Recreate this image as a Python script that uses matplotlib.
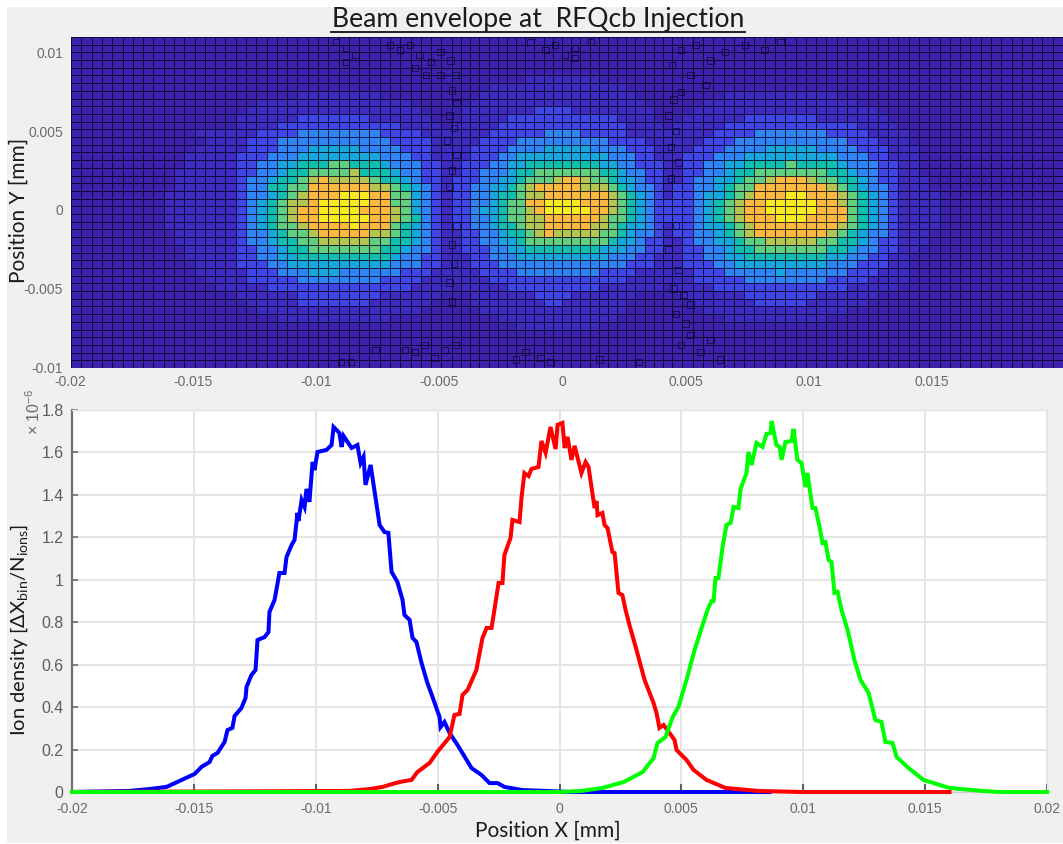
import numpy as np
import matplotlib
matplotlib.use("Agg")
import matplotlib.pyplot as plt
from matplotlib.colors import ListedColormap
from matplotlib.patches import Rectangle
from matplotlib.lines import Line2D

W, H = 1063, 844
plt.rcParams['font.family'] = ['Liberation Sans', 'DejaVu Sans']
plt.rcParams['mathtext.default'] = 'regular'

# ---- data ----------------------------------------------------------------
# Heat map: intensity level per cell (0 = lowest ... 9 = highest), top row first
left_rows = [
 "", "", "", "", "", "", "",
 "0000000000000000000000111111110000000",
 "0000000000000000001111111111111110000",
 "0000000000000000011111111111111111000",
 "0000000000000000111111222222211111100",
 "0000000000000000111122222222222211110",
 "0000000000001111112222333333332222111",
 "0000000000000111122233333333333222211",
 "0000000000001111122233344444333322211",
 "0000000000011111222333444444443332211",
 "0000000000011111223344555665554333221",
 "0000000000111111223345566667555433221",
 "0000000000111111233455678777765543221",
 "0000000000111111233556688888877654321",
 "0000000001111111233456788899988664321",
 "0000000001111111234567789999988664321",
 "0000000001111111234567889999888764321",
 "0000000001111111234567889999988765321",
 "0000000001111111234566788889888654321",
 "0000000000111111233456678888877654321",
 "0000000000111111233455667777766554321",
 "0000000000011111223345566666665543321",
 "0000000000011111223344555555555433221",
 "0000000000001111222334444444444333221",
 "0000000000001111122233344433333322211",
 "0000000000000111122222333333332222111",
 "0000000000000011111222222222222221111",
 "0000000000000000111111222222221111110",
 "0000000000000000011111222222211111100",
 "0000000000000000001111111111111111000",
 "0000000000000000000011111111111000000",
 "", "", "", "", "", "",
]
middle_rows = [
 "", "", "", "", "",
 "000000001111111100000000",
 "000011111111111111100000",
 "000111111111111111110000",
 "001111111111111111111000",
 "011111111222211111111100",
 "011111222222222222111100",
 "111112222222222222211110",
 "111122222233332222211111",
 "111222233333333332222111",
 "112222333344444333322211",
 "112223344444444443332211",
 "122233445555555544332221",
 "122333455666666655433221",
 "222334456667887665443221",
 "223344567888887776543321",
 "223345567788888887654321",
 "223345668899998887654322",
 "223445667899999887654322",
 "223345667788888876654322",
 "223345567788888776544321",
 "122334556787777766543321",
 "122334456666666665443221",
 "122233445555555544433221",
 "112233344444444443332211",
 "112223333333333333322211",
 "111222233333333322221111",
 "111122222222222222211111",
 "011111222222222211111110",
 "001111111222211111110000",
 "001111111122111111100000",
 "000111111111111111100000",
 "000001111111111111000000",
 "000000011111111100000000",
 "", "", "", "", "",
]
right_rows = [
 "", "", "", "", "", "", "",
 "00000111111111110000000",
 "00011111111111111100000",
 "00111111111111111111000",
 "01111112222222111111100",
 "11111222222222222211110",
 "11112222333333322221111",
 "11122233333333333222111",
 "112223333444443333222111",
 "122233344444444433322111",
 "1223344555565555433322110",
 "1223345566666665543322110",
 "12334456678887665543221110",
 "22334566888888876543321110",
 "223445678889988876543211110",
 "223456788999998876543211110",
 "223456788999998886543211110",
 "223456788899988886543211110",
 "223445678888888876543211110",
 "22334567888888876543321110",
 "12334456677777665543221110",
 "1223345566666665543322110",
 "1223344555555554433221100",
 "122233444444444333222110",
 "11222333334333333222111",
 "11222223333333322221111",
 "11112222222222222111110",
 "01111112222222111111000",
 "00111111222221111110000",
 "00011111111111111000000",
 "00000111111111100000000",
 "", "", "", "", "", "",
]
level_colors = ["#3c22ac", "#3e2cc0", "#4146e8", "#3085f5", "#16a8dc",
                "#10bfae", "#62cf80", "#b4c650", "#fab83c", "#f8ea20"]

# Heat-map seam / overlap marks, x and y in 1e-3 axis units
seam_x = [-9.2,-8.8,-8.4,-8.8,-7.0,-6.6,-6.2,-5.8,-5.35,-4.95,-6.0,-5.55,-4.95,-4.35,-4.55,
          -1.3,-0.7,-0.3,0.1,0.5,1.15,0.5,
          4.8,5.4,6.0,6.6,7.4,8.2,8.85,5.2,5.8,4.8,4.45,
          -4.5,-4.3,-4.6,-4.4,-4.7,-4.3,-4.5,-4.6,-4.3,-4.5,-4.4,-4.6,-4.5,
          4.5,4.3,4.6,4.4,4.7,4.4,4.6,4.3,4.7,4.5,4.9,5.2,4.6,5.0,
          -9.0,-8.6,-7.6,-6.4,-6.0,-5.6,-5.2,-4.8,-4.35,-1.9,-1.5,-0.9,-0.5,1.5,3.1,4.8,5.2,5.6,6.0,6.4]
seam_y = [10.66,10.28,9.83,9.4,10.47,10.15,10.47,9.83,9.4,10.03,9.0,8.57,8.57,8.57,9.5,
          10.66,10.15,10.47,9.83,10.28,10.66,9.64,
          10.15,10.47,9.5,10.03,10.47,10.15,10.66,8.57,7.93,7.5,9.2,
          7.6,6.8,6.0,5.2,4.4,3.5,2.5,1.5,-1.0,-2.2,-3.4,-4.6,-5.8,
          7.0,6.0,5.0,4.0,3.0,2.0,-1.0,-2.5,-3.8,-5.0,-5.4,-6.0,-6.6,-7.2,
          -9.64,-9.64,-8.88,-8.88,-9.0,-8.57,-9.4,-8.88,-8.57,-9.5,-9.0,-9.4,-9.64,-9.5,-9.64,-8.57,-7.93,-9.0,-8.25,-9.5]

# Line profiles: x in 1e-3 axis units, y in 1e-6 units
blue_x = [-20,-17.64,-16.82,-16.12,-15.59,-14.97,-14.69,-14.36,-14.24,-14.03,-13.74,-13.62,-13.42,-13.33,-13.05,
          -12.88,-12.84,-12.64,-12.47,-12.39,-12.10,-11.94,-11.90,-11.69,-11.49,-11.28,-11.20,-10.99,-10.87,-10.75,
          -10.71,-10.58,-10.46,-10.38,-10.26,-10.13,-10.05,-9.93,-9.56,-9.35,-9.27,-9.03,-8.94,-8.86,-8.53,-8.29,
          -8.16,-8.04,-7.96,-7.75,-7.38,-7.18,-7.02,-6.89,-6.65,-6.44,-6.36,-6.15,-6.03,-5.87,-5.66,-5.42,-5.21,
          -4.92,-4.88,-4.72,-4.51,-4.18,-3.61,-3.20,-2.87,-2.54,-2.26,-1.52,-0.53,0.41,8.62]
blue_y = [0,.005,.014,.024,.052,.085,.118,.141,.170,.184,.236,.292,.302,.358,.396,
          .443,.495,.551,.575,.716,.730,.754,.848,.905,1.032,1.032,1.107,1.164,1.188,1.315,
          1.277,1.376,1.343,1.428,1.367,1.555,1.517,1.602,1.612,1.635,1.720,1.692,1.626,1.678,1.621,1.635,
          1.550,1.579,1.447,1.541,1.258,1.225,1.221,1.037,.990,.905,.834,.811,.726,.707,.608,.514,.448,
          .353,.306,.330,.278,.221,.113,.080,.042,.042,.024,.009,.005,0,0]
red_x = [-20,-8.62,-7.79,-7.26,-6.85,-6.56,-6.07,-5.83,-5.33,-5.01,-4.51,-4.31,-4.10,-3.98,-3.77,-3.41,-3.16,-2.99,-2.79,
         -2.67,-2.50,-2.34,-2.26,-2.01,-1.93,-1.64,-1.56,-1.44,-1.27,-1.15,-0.86,-0.74,-0.57,-0.37,-0.16,-0.08,0.12,
         0.21,0.33,0.49,0.62,0.90,1.07,1.19,1.44,1.52,1.56,1.76,1.85,1.97,2.17,2.26,2.42,2.58,2.71,2.87,3.16,3.49,
         3.86,3.98,4.10,4.27,4.72,4.80,5.21,5.50,6.03,6.81,8.16,9.93,16.0]
red_y = [0,.005,.014,.024,.038,.047,.057,.094,.137,.189,.259,.363,.368,.457,.481,.575,.726,.773,.773,
         .858,.985,.985,1.117,1.197,1.282,1.272,1.385,1.503,1.489,1.522,1.532,1.654,1.598,1.720,1.616,1.730,1.739,
         1.621,1.673,1.565,1.631,1.503,1.555,1.532,1.338,1.371,1.305,1.315,1.258,1.244,1.131,1.126,.938,.928,.858,.787,.669,.528,
         .419,.372,.302,.316,.245,.198,.151,.104,.057,.019,.005,0,0]
green_x = [-20,0,.90,1.76,2.63,3.41,3.86,4.02,4.35,4.64,4.88,5.21,5.54,5.74,6.07,6.24,6.32,6.40,6.52,6.69,6.85,7.02,
           7.14,7.34,7.43,7.67,7.75,7.88,8.08,8.33,8.49,8.66,8.70,8.90,9.03,9.11,9.27,9.52,9.60,9.76,9.93,10.09,10.17,
           10.38,10.50,10.67,10.79,10.91,11.04,11.16,11.28,11.41,11.57,11.82,12.10,12.35,12.68,12.96,13.21,13.37,13.66,
           13.83,14.32,14.93,16.0,17.35,18.05,20]
green_y = [0,0,.005,.019,.047,.094,.160,.231,.259,.353,.401,.528,.669,.740,.858,.900,.900,1.008,1.008,1.155,1.258,1.268,
           1.343,1.338,1.428,1.503,1.602,1.541,1.645,1.626,1.687,1.692,1.748,1.635,1.626,1.565,1.649,1.654,1.711,1.565,1.550,1.437,1.503,
           1.338,1.338,1.249,1.173,1.178,1.093,1.084,.938,.943,.858,.763,.622,.528,.467,.339,.330,.236,.231,
           .165,.113,.057,.019,.005,0,0]

top_xticks = [-0.02, -0.015, -0.01, -0.005, 0, 0.005, 0.01, 0.015]
top_xlabels = ["-0.02", "-0.015", "-0.01", "-0.005", "0", "0.005", "0.01", "0.015"]
top_yticks = [-0.01, -0.005, 0, 0.005, 0.01]
top_ylabels = ["-0.01", "-0.005", "0", "0.005", "0.01"]
bot_xticks = [-0.02, -0.015, -0.01, -0.005, 0, 0.005, 0.01, 0.015, 0.02]
bot_xlabels = ["-0.02", "-0.015", "-0.01", "-0.005", "0", "0.005", "0.01", "0.015", "0.02"]
bot_yticks = [0, .2, .4, .6, .8, 1, 1.2, 1.4, 1.6, 1.8]
bot_ylabels = ["0", "0.2", "0.4", "0.6", "0.8", "1", "1.2", "1.4", "1.6", "1.8"]

title_text = "Beam envelope at  RFQcb Injection"

# ---- figure --------------------------------------------------------------
def box(l, t, r, b):
    return [l / W, 1 - b / H, (r - l) / W, (b - t) / H]

fig = plt.figure(figsize=(W / 100, H / 100), dpi=100, facecolor="white")
fig.add_artist(Rectangle((7 / W, 1 / H), 1 - 7 / W, 1 - 8 / H, transform=fig.transFigure,
                         facecolor="#f0f0f0", edgecolor="none", zorder=-5))

TICK = "#6a6a6a"
WORD = "#1a1a1a"

# ---- heat map -------------------------------------------------------------
ax = fig.add_axes(box(70, 37, 1063, 368))
XMIN, XMAX = (70 - 562) / 24660, (1063 - 562) / 24660
YMAX, YMIN = 10.98e-3, -10.03e-3
ax.set_xlim(XMIN, XMAX)
ax.set_ylim(YMIN, YMAX)
cmap = ListedColormap(level_colors)
sections = [(left_rows, XMIN, -4.5e-3, 37), (middle_rows, -4.5e-3, 4.45e-3, 24), (right_rows, 4.45e-3, XMAX, 38)]
for rows, x0, x1, n in sections:
    M = np.array([[int(c) for c in r.ljust(n, "0")[:n]] for r in rows])
    xe = np.linspace(x0, x1, n + 1)
    ye = np.linspace(YMAX, YMIN, len(rows) + 1)
    ax.pcolormesh(xe, ye, M, cmap=cmap, vmin=-0.5, vmax=9.5,
                  edgecolors=(0.02, 0.0, 0.1, 0.8), linewidth=0.68)
ax.scatter(np.array(seam_x) * 1e-3, np.array(seam_y) * 1e-3, marker="s", s=22,
           facecolors="none", edgecolors=(0, 0, 0.1, 0.6), linewidths=0.7, zorder=3)
ax.set_xticks(top_xticks, top_xlabels)
ax.set_yticks(top_yticks, top_ylabels)
ax.tick_params(length=0, labelsize=10, labelcolor=TICK, pad=5)
for s in ax.spines.values():
    s.set_visible(False)

# ---- profiles -------------------------------------------------------------
ax2 = fig.add_axes(box(72, 410, 1047, 792))
ax2.set_facecolor("white")
ax2.set_xlim(-0.02, 0.02)
ax2.set_ylim(0, 1.8)
ax2.grid(True, color="#e2e2e2", linewidth=1.3)
ax2.set_axisbelow(True)
for xs, ys, col, z in [(blue_x, blue_y, "#0000ff", 3), (red_x, red_y, "#ff0000", 4), (green_x, green_y, "#00ff00", 5)]:
    ax2.plot(np.array(xs) * 1e-3, ys, color=col, linewidth=2.9, zorder=z, clip_on=False,
             solid_joinstyle="miter")
ax2.set_xticks(bot_xticks, bot_xlabels)
ax2.set_yticks(bot_yticks, bot_ylabels)
ax2.tick_params(axis="x", direction="in", length=6, width=1.5, color="#606060",
                labelsize=10, labelcolor=TICK, pad=7)
ax2.tick_params(axis="y", direction="in", length=4, width=1.2, color="#707070",
                labelsize=11.4, labelcolor="#5c5c5c", pad=6)
for name, s in ax2.spines.items():
    if name == "left":
        s.set_color("#707070"); s.set_linewidth(1.6)
    elif name == "bottom":
        s.set_color("#d0d0d0"); s.set_linewidth(1.0)
    else:
        s.set_color("#e4e4e4"); s.set_linewidth(1.0)

# ---- words ----------------------------------------------------------------
LABEL = "Lato"
fig.text(538 / W, 1 - 20 / H, title_text, ha="center", va="center",
         fontsize=19.2, color=WORD, family=[LABEL, "DejaVu Sans"])
fig.add_artist(Line2D([331 / W, 745 / W], [1 - 31.5 / H] * 2, color="#222222", linewidth=1.4,
                      transform=fig.transFigure))
fig.text(19 / W, 1 - 210 / H, "Position Y [mm]", rotation=90, ha="center", va="center",
         fontsize=15, color=WORD, family=[LABEL, "DejaVu Sans"])
fig.text(19 / W, 1 - 630 / H, "Ion density [\u0394X$_{bin}$/N$_{ions}$]", rotation=90,
         ha="center", va="center", fontsize=14.5, color=WORD, family=[LABEL, "DejaVu Sans"])
fig.text(548 / W, 1 - 831 / H, "Position X [mm]", ha="center", va="center",
         fontsize=15, color=WORD, family=[LABEL, "DejaVu Sans"])
fig.text(34 / W, 1 - 412 / H, "\u00d7 10$^{-6}$", rotation=90, ha="center", va="center",
         fontsize=11.5, color=TICK)

fig.savefig("out.png", dpi=100)
